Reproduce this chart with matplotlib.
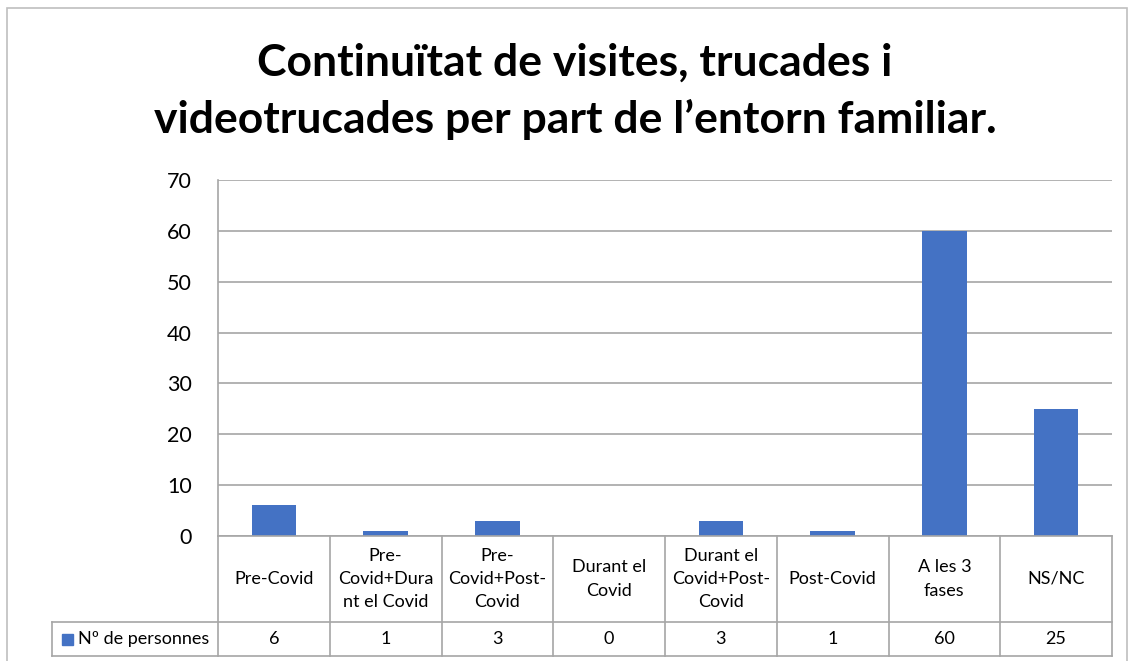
import matplotlib
matplotlib.use("Agg")
import matplotlib.pyplot as plt
from matplotlib.patches import Rectangle

categories = ["Pre-Covid", "Pre-\nCovid+Dura\nnt el Covid", "Pre-\nCovid+Post-\nCovid",
              "Durant el\nCovid", "Durant el\nCovid+Post-\nCovid", "Post-Covid",
              "A les 3\nfases", "NS/NC"]
values = [6, 1, 3, 0, 3, 1, 60, 25]
series_name = "Nº de personnes"
title_lines = ["Continuïtat de visites, trucades i",
               "videotrucades per part de l’entorn familiar."]
yticks = [0, 10, 20, 30, 40, 50, 60, 70]

BAR = "#4472C4"
GRID = "#A6A6A6"
FONT = "Lato"

W, H = 1134, 661
fig = plt.figure(figsize=(W / 100, H / 100), dpi=100)
plt.rcParams['font.family'] = [FONT, 'DejaVu Sans']

def px(x0, y0, x1, y1):
    return [x0 / W, 1 - y1 / H, (x1 - x0) / W, (y1 - y0) / H]

# outer chart border
fig.add_artist(Rectangle((7 / W, -0.05), (1127 - 7) / W, 1.05 - 8 / H,
                         transform=fig.transFigure, fill=False,
                         edgecolor="#BFBFBF", linewidth=1.2))

for yb, line in zip([76, 133], title_lines):
    fig.text(575 / W, 1 - yb / H, line, ha="center", va="baseline",
             fontsize=32, fontweight="bold")

ax = fig.add_axes(px(218, 180, 1112, 536))
n = len(categories)
x = list(range(n))
ax.bar(x, values, width=0.4, color=BAR, zorder=3)
ax.set_xlim(-0.5, n - 0.5)
ax.set_ylim(0, 70)
ax.set_yticks(yticks)
ax.set_yticklabels([str(t) for t in yticks], fontsize=15.5)
ax.tick_params(axis="y", length=0, pad=19)
ax.set_xticks([])
ax.grid(axis="y", color=GRID, linewidth=1.2, zorder=0)
for s in ["top", "right", "bottom"]:
    ax.spines[s].set_visible(False)
ax.spines["left"].set_color(GRID)
ax.spines["left"].set_linewidth(1.2)

# data table
tab = fig.add_axes(px(52, 536, 1112, 656))
left = -0.5 - (218 - 52) / ((1112 - 218) / n)
tab.set_xlim(left, n - 0.5)
tab.set_ylim(0, 1)
tab.axis("off")
sep = (656 - 622) / 120
lw = 1.2
for b in [i - 0.5 for i in range(n + 1)]:
    tab.plot([b, b], [0, 1], color=GRID, lw=lw, clip_on=False)
tab.plot([left, left], [0, sep], color=GRID, lw=lw, clip_on=False)
tab.plot([left, n - 0.5], [0, 0], color=GRID, lw=lw, clip_on=False)
tab.plot([left, n - 0.5], [sep, sep], color=GRID, lw=lw, clip_on=False)
tab.plot([-0.5, n - 0.5], [1, 1], color=GRID, lw=lw, clip_on=False)
FS = 13
for i, (c, v) in enumerate(zip(categories, values)):
    tab.text(i, (1 + sep) / 2, c, ha="center", va="center", fontsize=FS,
             linespacing=1.55)
    tab.text(i, sep / 2, str(v), ha="center", va="center", fontsize=FS)
# legend key in table
cell_px = (1112 - 218) / n
sq_x = left + (62 - 52) / cell_px
sq_w = 11 / cell_px
tab.add_patch(Rectangle((sq_x, (656 - 645) / 120), sq_w, 11 / 120, color=BAR,
                        clip_on=False))
tab.text(left + (78 - 52) / cell_px, sep / 2, series_name, ha="left",
         va="center", fontsize=FS)

fig.savefig("out.png", dpi=100)
